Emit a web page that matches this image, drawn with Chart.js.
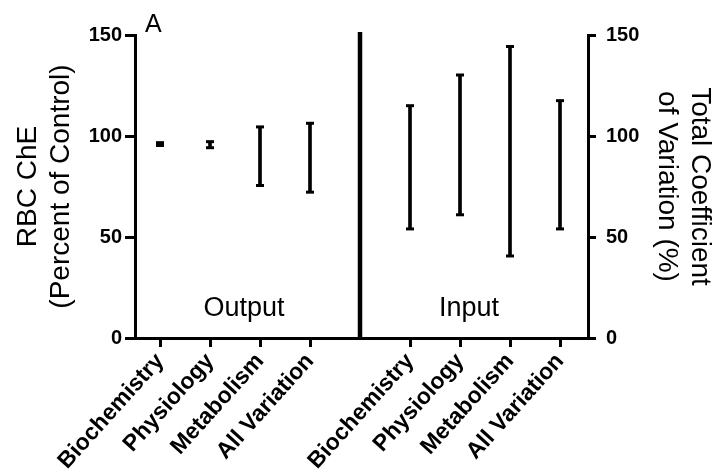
<!DOCTYPE html>
<html>
<head>
<meta charset="utf-8">
<script src="https://cdn.jsdelivr.net/npm/chart.js@4/dist/chart.umd.min.js"></script>
<style>
  html, body { margin: 0; padding: 0; background: #fff; }
  #wrap { width: 717px; height: 476px; }
</style>
</head>
<body>
<div id="wrap"><canvas id="chart"></canvas></div>
<script>
const categories = ['Biochemistry', 'Physiology', 'Metabolism', 'All Variation'];
const outputPos = [1, 2, 3, 4];
const inputPos = [6, 7, 8, 9];
const dividerPos = 5;

// RBC ChE, percent of control (left axis)
const outputLow = [95.3, 94.2, 75.5, 72.2];
const outputHigh = [96.7, 97.2, 104.5, 106.3];

// total coefficient of variation, % (right axis)
const inputLow = [54, 61, 40.6, 54];
const inputHigh = [115, 130.2, 144.3, 117.5];

const yTicks = [0, 50, 100, 150];

const FONT = '"Liberation Sans", Arial, Helvetica, sans-serif';
const tickLabels = {};
outputPos.forEach((p, i) => tickLabels[p] = categories[i]);
inputPos.forEach((p, i) => tickLabels[p] = categories[i]);

function bars(pos, low, high) {
  return pos.map((p, i) => ({ x: p, y: [low[i], high[i]] }));
}
function caps(pos, vals) {
  return pos.map((p, i) => ({ x: p, y: vals[i] }));
}

const capStyle = {
  type: 'scatter',
  pointStyle: 'line',
  pointRadius: 4,
  pointHoverRadius: 4,
  borderColor: '#000',
  borderWidth: 3
};

const annotations = {
  id: 'annotations',
  afterDraw(chart) {
    const ctx = chart.ctx;
    const x = chart.scales.x, y = chart.scales.y;
    ctx.save();
    ctx.fillStyle = '#000';
    ctx.font = '27px ' + FONT;
    ctx.textAlign = 'center';
    ctx.textBaseline = 'middle';
    ctx.fillText('Output', x.getPixelForValue(2.68), y.getPixelForValue(14.4));
    ctx.fillText('Input', x.getPixelForValue(7.18), y.getPixelForValue(14.4));
    ctx.font = '25px ' + FONT;
    ctx.textAlign = 'left';
    ctx.textBaseline = 'alphabetic';
    ctx.fillText('A', x.getPixelForValue(0.7), y.getPixelForValue(151.5));
    ctx.restore();
  }
};

new Chart(document.getElementById('chart'), {
  data: {
    datasets: [
      {
        type: 'line',
        data: [{ x: dividerPos, y: 0 }, { x: dividerPos, y: 151.5 }],
        borderColor: '#000',
        borderWidth: 4.5,
        pointRadius: 0,
        clip: false,
        yAxisID: 'y'
      },
      {
        type: 'bar',
        data: bars(outputPos, outputLow, outputHigh),
        backgroundColor: '#000',
        barThickness: 3,
        grouped: false,
        yAxisID: 'y'
      },
      { ...capStyle, data: caps(outputPos, outputLow), yAxisID: 'y' },
      { ...capStyle, data: caps(outputPos, outputHigh), yAxisID: 'y' },
      {
        type: 'bar',
        data: bars(inputPos, inputLow, inputHigh),
        backgroundColor: '#000',
        barThickness: 3,
        grouped: false,
        yAxisID: 'y2'
      },
      { ...capStyle, data: caps(inputPos, inputLow), yAxisID: 'y2' },
      { ...capStyle, data: caps(inputPos, inputHigh), yAxisID: 'y2' }
    ]
  },
  options: {
    responsive: true,
    maintainAspectRatio: false,
    animation: false,
    layout: { padding: { top: 35, left: 0, right: 0, bottom: 0 } },
    plugins: { legend: { display: false }, tooltip: { enabled: false } },
    scales: {
      x: {
        type: 'linear',
        min: 0.5,
        max: 9.56,
        offset: false,
        afterBuildTicks: s => { s.ticks = outputPos.concat(inputPos).map(v => ({ value: v })); },
        afterFit: s => { s.height = 138; },
        border: { color: '#000', width: 3 },
        grid: { offset: false, drawOnChartArea: false, color: '#000', tickLength: 9, lineWidth: 3 },
        ticks: {
          color: '#000',
          minRotation: 48,
          maxRotation: 48,
          padding: 1,
          font: { family: FONT, size: 23, weight: 'bold' },
          callback: v => tickLabels[v] || ''
        }
      },
      y: {
        position: 'left',
        min: 0,
        max: 150,
        afterBuildTicks: s => { s.ticks = yTicks.map(v => ({ value: v })); },
        afterFit: s => { s.width = 135; },
        border: { color: '#000', width: 3 },
        grid: { drawOnChartArea: false, color: '#000', tickLength: 10, lineWidth: 3 },
        ticks: {
          color: '#000',
          padding: 3,
          font: { family: FONT, size: 20, weight: 'bold' }
        },
        title: {
          display: true,
          text: ['RBC ChE', '(Percent of Control)'],
          color: '#000',
          padding: { top: 11, bottom: 0 },
          font: { family: FONT, size: 28, lineHeight: 1.2 }
        }
      },
      y2: {
        position: 'right',
        min: 0,
        max: 150,
        afterBuildTicks: s => { s.ticks = yTicks.map(v => ({ value: v })); },
        afterFit: s => { s.width = 129; },
        border: { color: '#000', width: 3 },
        grid: { drawOnChartArea: false, color: '#000', tickLength: 8, lineWidth: 3 },
        ticks: {
          color: '#000',
          padding: 10,
          font: { family: FONT, size: 20, weight: 'bold' }
        },
        title: {
          display: true,
          text: ['Total Coefficient', 'of Variation (%)'],
          color: '#000',
          padding: { top: 0, bottom: 0 },
          font: { family: FONT, size: 28, lineHeight: 1.2 }
        }
      }
    }
  },
  plugins: [annotations]
});
</script>
</body>
</html>
